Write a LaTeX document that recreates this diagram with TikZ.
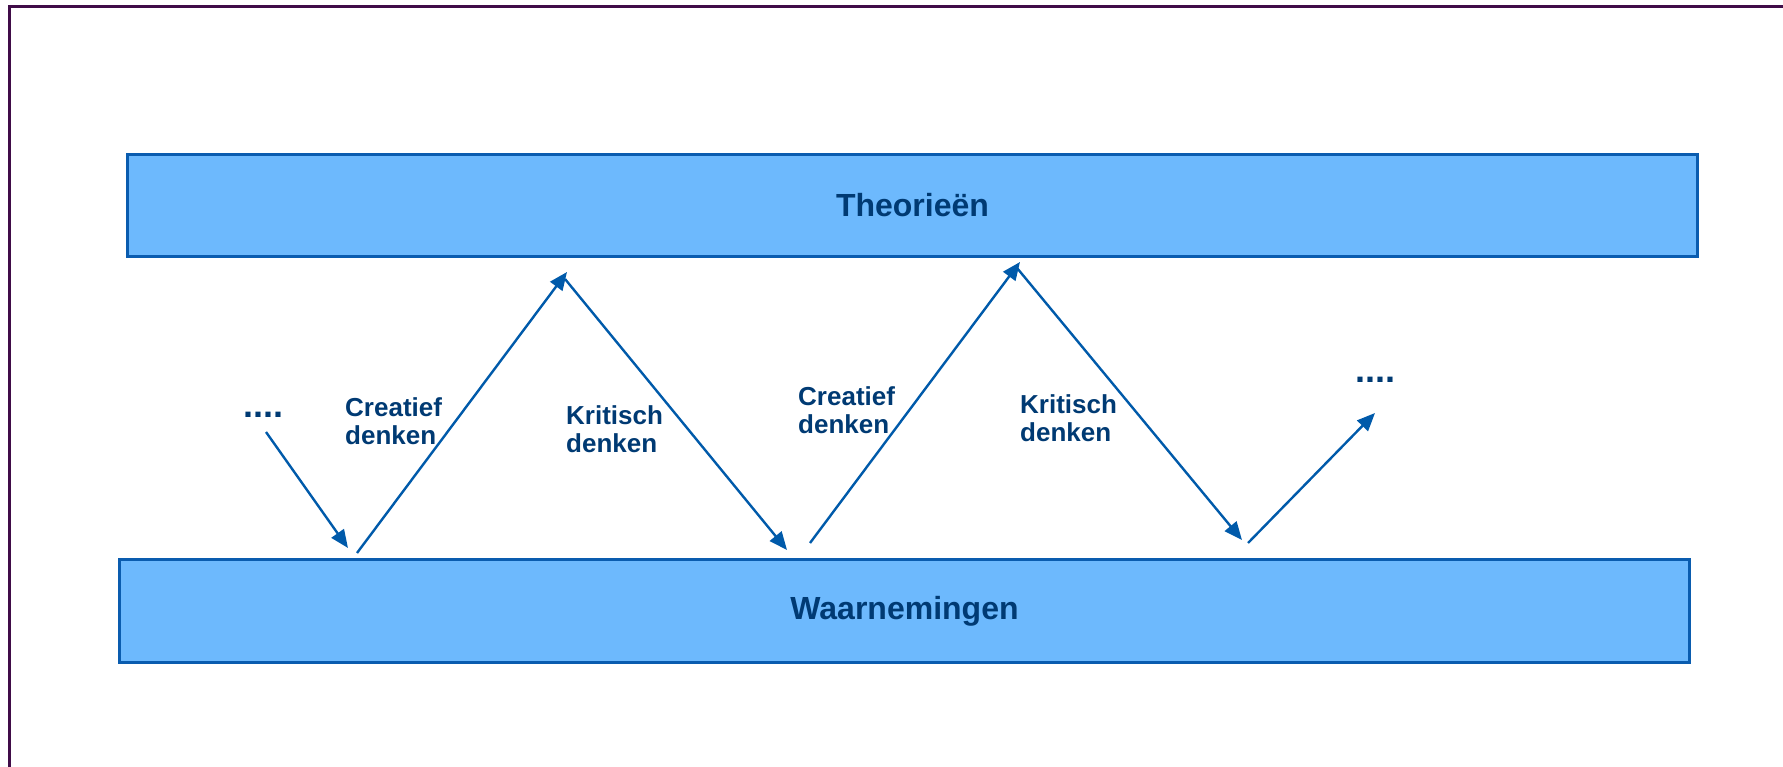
\documentclass[tikz,border=0pt]{standalone}
\usepackage{fontspec}
\setmainfont{Liberation Sans}
\usetikzlibrary{arrows.meta}
\definecolor{boxfill}{RGB}{109,185,253}
\definecolor{boxline}{RGB}{10,92,175}
\definecolor{arrowcol}{RGB}{0,90,170}
\definecolor{txtcol}{RGB}{0,58,115}
\definecolor{framecol}{RGB}{64,12,72}
\tikzset{
  band/.style={draw=boxline, fill=boxfill, line width=3pt, rectangle, inner sep=0pt,
    minimum width=1570pt, text=txtcol, font=\bfseries\fontsize{32}{36}\selectfont},
  lbl/.style={anchor=base west, align=left, inner sep=0pt, text=txtcol,
    font=\bfseries\fontsize{26}{28}\selectfont},
  dots/.style={anchor=base west, inner sep=0pt, text=txtcol,
    font=\bfseries\fontsize{36}{40}\selectfont},
  flow/.style={draw=arrowcol, line width=2.4pt, -{Triangle[length=18pt,width=15pt]}}
}
\begin{document}
\begin{tikzpicture}[x=1pt,y=-1pt]
\useasboundingbox (0,0) rectangle (1783,767);
\begin{scope}
\clip (0,0) rectangle (1783,767);
\draw[framecol, line width=3pt] (9.5,7) rectangle (1800,790);
\end{scope}
\node[band, minimum height=102pt] (theo) at (912.5,205.5) {Theorieën};
\node[band, minimum height=103pt] (waar) at (904.5,611) {Waarnemingen};
\node[dots] (dl) at (243.5,417) {....};
\node[dots] (dr) at (1355.5,382) {....};
\node[lbl] (c1) at (345,444) {Creatief\\denken};
\node[lbl] (k1) at (566,452) {Kritisch\\denken};
\node[lbl] (c2) at (798,433) {Creatief\\denken};
\node[lbl] (k2) at (1020,441) {Kritisch\\denken};
\coordinate (s1) at (266,432);
\coordinate (e1) at (348,548);
\coordinate (s2) at (357,553);
\coordinate (e2) at (567,272);
\coordinate (s3) at (565,279);
\coordinate (e3) at (787,550);
\coordinate (s4) at (810,543);
\coordinate (e4) at (1020,262);
\coordinate (s5) at (1017,268);
\coordinate (e5) at (1242,540);
\coordinate (s6) at (1248,543);
\coordinate (e6) at (1375,413);
\draw[flow] (s1) -- (e1);
\draw[flow] (s2) -- (e2);
\draw[flow] (s3) -- (e3);
\draw[flow] (s4) -- (e4);
\draw[flow] (s5) -- (e5);
\draw[flow] (s6) -- (e6);
\end{tikzpicture}
\end{document}
